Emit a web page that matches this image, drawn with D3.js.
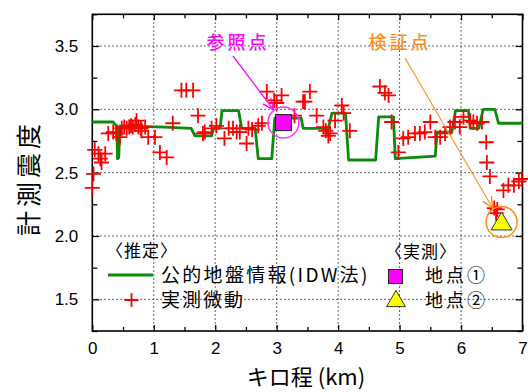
<!DOCTYPE html>
<html>
<head>
<meta charset="utf-8">
<script src="https://cdn.jsdelivr.net/npm/d3@7"></script>
<style>
  html, body { margin: 0; padding: 0; background: #fff; }
  svg { display: block; }
</style>
</head>
<body>
<svg id="chart" width="528" height="392"></svg>
<script>
// Estimated seismic intensity from public ground data (IDW), step profile along the line
const idwKm  = [0.00, 0.34, 0.37, 0.40, 0.41, 0.43, 0.45, 1.18, 1.61, 1.67, 1.94, 1.97, 2.08, 2.11, 2.38, 2.43, 2.65, 2.70, 2.92, 2.97, 3.40, 3.43, 3.79, 3.82, 3.90, 4.12, 4.17, 4.61, 4.66, 4.90, 4.93, 5.58, 5.61, 5.85, 5.91, 6.12, 6.15, 6.29, 6.36, 6.55, 6.61, 7.00];
const idwVal = [2.90, 2.90, 2.88, 2.87, 2.61, 2.62, 2.87, 2.86, 2.85, 2.79, 2.79, 2.85, 2.85, 2.99, 2.99, 2.85, 2.85, 2.61, 2.61, 2.93, 2.93, 2.85, 2.85, 2.81, 2.97, 2.97, 2.60, 2.60, 2.94, 2.94, 2.61, 2.63, 2.82, 2.82, 2.99, 2.99, 2.85, 2.85, 3.00, 3.00, 2.89, 2.89];

// Intensity estimated from microtremor measurements
const mtKm  = [0.00, 0.02, 0.04, 0.10, 0.13, 0.15, 0.21, 0.26, 0.34, 0.39, 0.45, 0.48, 0.52, 0.56, 0.60, 0.63, 0.66, 0.70, 0.72, 0.75, 0.79, 0.80, 0.86, 0.91, 1.02, 1.10, 1.21, 1.31, 1.45, 1.53, 1.64, 1.72, 1.80, 1.83, 1.94, 2.02, 2.15, 2.22, 2.29, 2.35, 2.40, 2.51, 2.54, 2.60, 2.70, 2.76, 2.84, 2.96, 3.00, 3.08, 3.29, 3.43, 3.46, 3.54, 3.65, 3.76, 3.80, 3.84, 3.87, 3.95, 4.06, 4.09, 4.19, 4.68, 4.76, 4.82, 4.87, 4.98, 5.06, 5.14, 5.25, 5.33, 5.41, 5.50, 5.58, 5.66, 5.74, 5.82, 5.90, 5.98, 6.04, 6.15, 6.20, 6.26, 6.34, 6.41, 6.42, 6.47, 6.54, 6.59, 6.57, 6.69, 6.77, 6.86, 6.94, 6.99];
const mtVal = [2.38, 2.49, 2.68, 2.65, 2.61, 2.58, 2.65, 2.81, 2.82, 2.81, 2.78, 2.85, 2.86, 2.85, 2.86, 2.87, 2.86, 2.88, 2.91, 2.86, 2.85, 2.83, 2.86, 2.78, 2.78, 2.66, 2.62, 2.89, 3.15, 3.15, 3.15, 2.95, 2.81, 2.82, 2.85, 2.87, 2.77, 2.85, 2.85, 2.82, 2.82, 2.73, 2.85, 2.84, 2.87, 2.89, 3.14, 3.07, 3.05, 3.11, 2.95, 3.06, 3.06, 3.14, 2.95, 2.86, 2.83, 2.79, 2.81, 2.91, 3.03, 2.97, 2.83, 3.18, 3.13, 3.11, 2.90, 2.66, 2.77, 2.78, 2.81, 2.81, 2.82, 2.90, 2.78, 2.78, 2.81, 2.86, 2.90, 2.86, 2.94, 2.91, 2.90, 2.89, 2.90, 2.74, 2.58, 2.47, 2.22, 2.21, 2.18, 2.36, 2.40, 2.40, 2.43, 2.45];

// Measured sites
const siteNames = ["地点①", "地点②"];
const siteKm    = [3.11, 6.66];
const siteVal   = [2.895, 2.11];

const xTicks = [0, 1, 2, 3, 4, 5, 6, 7];
const yTicks = [1.5, 2.0, 2.5, 3.0, 3.5];
const xLabel = "キロ程 (km)";
const yLabel = "計測震度";

const svg = d3.select("#chart");
const L = 92.3, R = 522.5, T = 14.3, B = 331;

const x = d3.scaleLinear().domain([0, 7]).range([L, R]);
const y = d3.scaleLinear().domain([1.25, 3.75]).range([B, T]);

const jp = "'Noto Sans CJK JP', 'Noto Sans', sans-serif";
const num = "'Liberation Sans', Arial, sans-serif";

// gridlines (dotted) at interior major ticks
const grid = svg.append("g");
grid.selectAll("line.gx").data(xTicks.slice(1, -1)).join("line")
  .attr("x1", d => x(d)).attr("x2", d => x(d)).attr("y1", T).attr("y2", B)
  .attr("stroke", "#333").attr("stroke-width", 1).attr("stroke-dasharray", "1.5,2.5");
grid.selectAll("line.gy").data(yTicks).join("line")
  .attr("y1", d => y(d)).attr("y2", d => y(d)).attr("x1", L).attr("x2", R)
  .attr("stroke", "#333").attr("stroke-width", 1).attr("stroke-dasharray", "1.5,2.5");

// axes with inward ticks on all four sides
function styleAxis(g) {
  g.select(".domain").remove();
  g.selectAll(".tick line").attr("stroke", "#000").attr("stroke-width", 1.3);
}
const minorX = d3.range(0.5, 7, 1);
const minorY = d3.range(1.25, 3.76, 0.5);

svg.append("g").attr("transform", `translate(0,${B})`)
  .call(d3.axisBottom(x).tickValues(xTicks).tickSizeInner(-6).tickSizeOuter(0).tickPadding(11).tickFormat(d3.format("d")))
  .call(styleAxis)
  .call(g => g.selectAll("text").attr("font-family", num).attr("font-size", 17).attr("fill", "#000"));
svg.append("g").attr("transform", `translate(0,${B})`)
  .call(d3.axisBottom(x).tickValues(minorX).tickSizeInner(-4).tickSizeOuter(0).tickFormat(""))
  .call(styleAxis);
svg.append("g").attr("transform", `translate(0,${T})`)
  .call(d3.axisTop(x).tickValues(xTicks).tickSizeInner(-6).tickSizeOuter(0).tickFormat(""))
  .call(styleAxis);
svg.append("g").attr("transform", `translate(0,${T})`)
  .call(d3.axisTop(x).tickValues(minorX).tickSizeInner(-4).tickSizeOuter(0).tickFormat(""))
  .call(styleAxis);

svg.append("g").attr("transform", `translate(${L},0)`)
  .call(d3.axisLeft(y).tickValues(yTicks).tickSizeInner(-7).tickSizeOuter(0).tickPadding(14).tickFormat(d3.format(".1f")))
  .call(styleAxis)
  .call(g => g.selectAll("text").attr("font-family", num).attr("font-size", 17).attr("fill", "#000"));
svg.append("g").attr("transform", `translate(${L},0)`)
  .call(d3.axisLeft(y).tickValues(minorY).tickSizeInner(-5).tickSizeOuter(0).tickFormat(""))
  .call(styleAxis);
svg.append("g").attr("transform", `translate(${R},0)`)
  .call(d3.axisRight(y).tickValues(yTicks).tickSizeInner(-7).tickSizeOuter(0).tickFormat(""))
  .call(styleAxis);
svg.append("g").attr("transform", `translate(${R},0)`)
  .call(d3.axisRight(y).tickValues(minorY).tickSizeInner(-5).tickSizeOuter(0).tickFormat(""))
  .call(styleAxis);

// plot frame
svg.append("rect").attr("x", L).attr("y", T).attr("width", R - L).attr("height", B - T)
  .attr("fill", "none").attr("stroke", "#000").attr("stroke-width", 1.6);

// IDW step profile
const idw = idwKm.map((k, i) => [k, idwVal[i]]);
svg.append("path").datum(idw)
  .attr("d", d3.line().x(d => x(d[0])).y(d => y(d[1])))
  .attr("fill", "none").attr("stroke", "#0b8a0b").attr("stroke-width", 2.8).attr("stroke-linejoin", "round");

// microtremor crosses
const cross = s => `M${-s},0H${s}M0,${-s}V${s}`;
const mt = mtKm.map((k, i) => [k, mtVal[i]]);
svg.append("g").selectAll("path").data(mt).join("path")
  .attr("transform", d => `translate(${x(d[0])},${y(d[1])})`)
  .attr("d", cross(7.5))
  .attr("stroke", "#ff0000").attr("stroke-width", 1.8).attr("fill", "none");

// arrow markers
const defs = svg.append("defs");
function arrowHead(id, color) {
  defs.append("marker").attr("id", id).attr("viewBox", "0 -6 12 12")
    .attr("refX", 11).attr("refY", 0).attr("markerWidth", 12).attr("markerHeight", 12)
    .attr("markerUnits", "userSpaceOnUse").attr("orient", "auto")
    .append("path").attr("d", "M0,-5L11,0L0,5").attr("fill", "none")
    .attr("stroke", color).attr("stroke-width", 1.4);
}
arrowHead("arrMag", "#ff00ff");
arrowHead("arrOra", "#ff8c1a");

// site 1: reference point
const s1x = x(siteKm[0]), s1y = y(siteVal[0]);
svg.append("circle").attr("cx", s1x).attr("cy", s1y).attr("r", 15.5)
  .attr("fill", "none").attr("stroke", "#ff33ff").attr("stroke-width", 1.5);
svg.append("rect").attr("x", s1x - 8).attr("y", s1y - 8).attr("width", 16).attr("height", 16)
  .attr("fill", "#ff00ff").attr("stroke", "#222").attr("stroke-width", 1);

// site 2: validation point
const s2x = x(siteKm[1]), s2y = y(siteVal[1]);
svg.append("circle").attr("cx", s2x).attr("cy", s2y).attr("r", 15.5)
  .attr("fill", "none").attr("stroke", "#ff8c1a").attr("stroke-width", 1.5);
const tri = s => `M0,${-s * 0.95}L${s},${s * 0.75}L${-s},${s * 0.75}Z`;
svg.append("path").attr("transform", `translate(${s2x},${s2y})`).attr("d", tri(10.5))
  .attr("fill", "#ffff00").attr("stroke", "#333").attr("stroke-width", 1);

// callouts
svg.append("text").attr("x", 238).attr("y", 49).attr("text-anchor", "middle")
  .attr("font-family", jp).attr("font-size", 18).attr("font-weight", 500).attr("fill", "#ff00ff").attr("letter-spacing", 3)
  .text("参照点");
svg.append("line").attr("x1", 233).attr("y1", 56).attr("x2", s1x - 10).attr("y2", s1y - 13)
  .attr("stroke", "#ff00ff").attr("stroke-width", 1.3).attr("marker-end", "url(#arrMag)");

svg.append("text").attr("x", 400).attr("y", 49).attr("text-anchor", "middle")
  .attr("font-family", jp).attr("font-size", 18).attr("font-weight", 500).attr("fill", "#ff8c1a").attr("letter-spacing", 3)
  .text("検証点");
svg.append("line").attr("x1", 405).attr("y1", 58).attr("x2", s2x - 9).attr("y2", s2y - 14)
  .attr("stroke", "#ff8c1a").attr("stroke-width", 1.1).attr("marker-end", "url(#arrOra)");

// legend
const lg = svg.append("g").attr("font-family", jp).attr("fill", "#000");
lg.append("text").attr("x", 106).attr("y", 257).attr("font-size", 17).attr("letter-spacing", 1).text("〈推定〉");
lg.append("line").attr("x1", 108).attr("x2", 153).attr("y1", 275).attr("y2", 275)
  .attr("stroke", "#0b8a0b").attr("stroke-width", 2.8);
lg.append("text").attr("x", 161).attr("y", 282).attr("font-size", 19).attr("letter-spacing", 2.3).text("公的地盤情報(IDW法)");
lg.append("path").attr("transform", "translate(131.5,300)").attr("d", cross(7))
  .attr("stroke", "#ff0000").attr("stroke-width", 1.8);
lg.append("text").attr("x", 161).attr("y", 307).attr("font-size", 19).attr("letter-spacing", 2).text("実測微動");

lg.append("text").attr("x", 385).attr("y", 258).attr("font-size", 17).attr("letter-spacing", 1).text("〈実測〉");
lg.append("rect").attr("x", 388.5).attr("y", 269.5).attr("width", 14).attr("height", 14)
  .attr("fill", "#ff00ff").attr("stroke", "#222").attr("stroke-width", 1);
lg.append("text").attr("x", 425).attr("y", 282).attr("font-size", 18).attr("letter-spacing", 3).text(siteNames[0]);
lg.append("path").attr("transform", "translate(396,299.5)").attr("d", tri(9.5))
  .attr("fill", "#ffff00").attr("stroke", "#333").attr("stroke-width", 1);
lg.append("text").attr("x", 425).attr("y", 307).attr("font-size", 18).attr("letter-spacing", 3).text(siteNames[1]);

// axis titles
svg.append("text").attr("x", 306).attr("y", 385).attr("text-anchor", "middle")
  .attr("font-family", jp).attr("font-size", 22).attr("fill", "#000").text(xLabel);
svg.append("text").attr("transform", `translate(38,178) rotate(-90)`)
  .attr("text-anchor", "middle").attr("font-family", jp).attr("font-size", 25)
  .attr("fill", "#000").attr("letter-spacing", 4).text(yLabel);
</script>
</body>
</html>
